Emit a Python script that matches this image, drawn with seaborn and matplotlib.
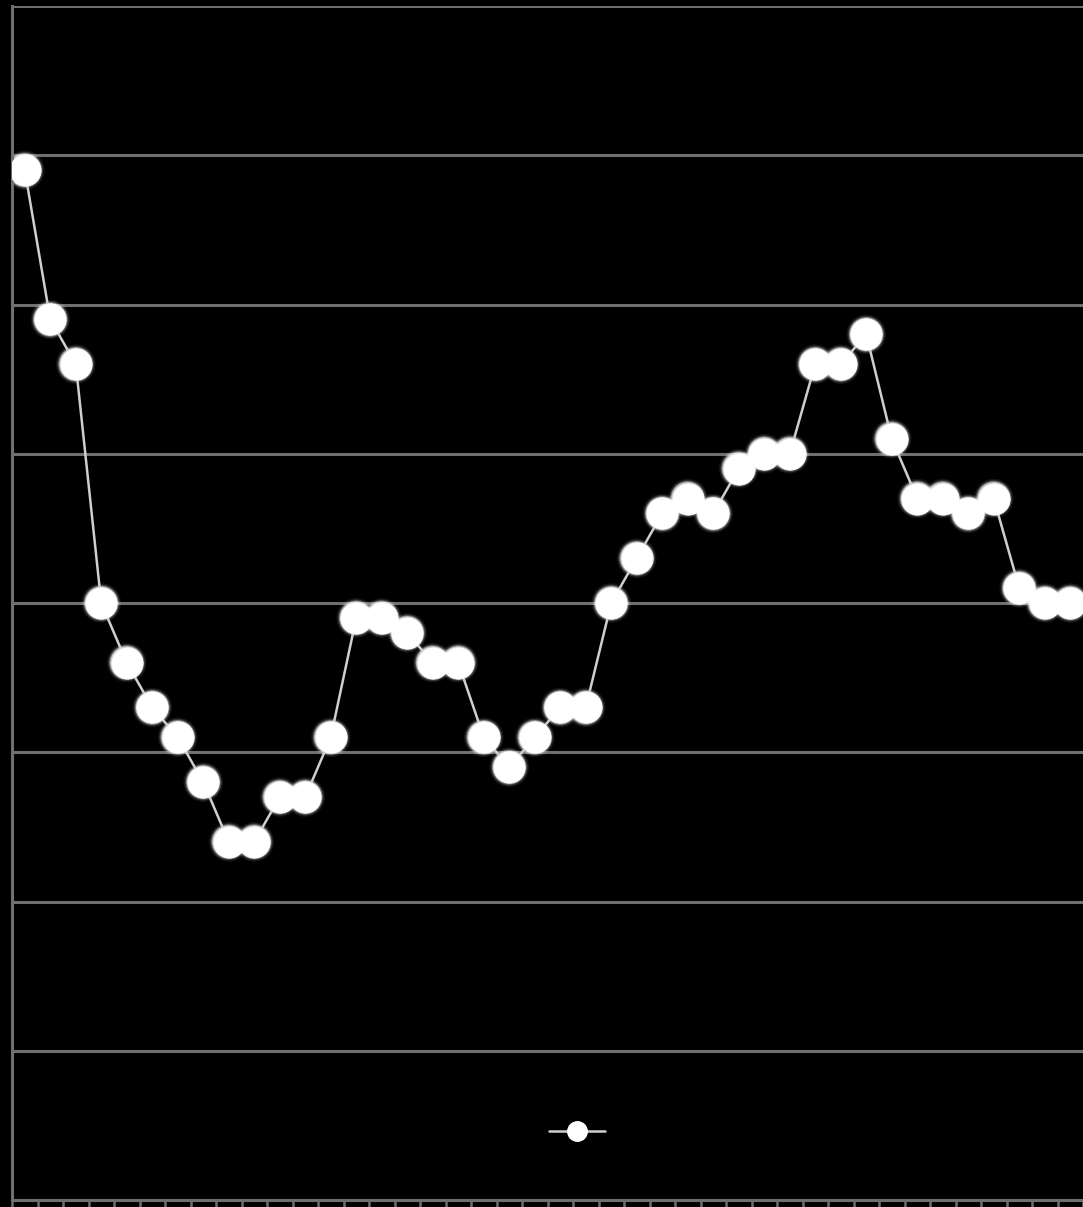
import numpy as np
import pandas as pd
import matplotlib
matplotlib.use("Agg")
import matplotlib.pyplot as plt
import seaborn as sns
from matplotlib.lines import Line2D

# data
periods = list(range(1, 43))
values = [69, 59, 56, 40, 36, 33, 31, 28, 24, 24,
          27, 27, 31, 39, 39, 38, 36, 36, 31, 29,
          31, 33, 33, 40, 43, 46, 47, 46, 49, 50,
          50, 56, 56, 58, 51, 47, 47, 46, 47, 41,
          40, 40]
y_ticks = [0, 10, 20, 30, 40, 50, 60, 70, 80]

df = pd.DataFrame({"period": periods, "value": values})
df["pos"] = np.arange(len(df))

sns.set_theme(style="dark")
fig = plt.figure(figsize=(10.83, 12.07), dpi=100, facecolor="black")
ax = fig.add_axes([12 / 1083, 7 / 1207, 1071 / 1083, 1194 / 1207])
ax.set_facecolor("black")

grid_c = "#6f6f6f"
for v in y_ticks[1:]:
    ax.axhline(v, color=grid_c, lw=2.2, zorder=0)

ms = 22.5
# soft glow under markers
for extra, a in [(6, 0.08), (4, 0.16), (2.5, 0.35), (1.2, 0.6)]:
    sns.scatterplot(data=df, x="pos", y="value", ax=ax, s=(ms + extra) ** 2,
                    color="white", alpha=a, linewidth=0, edgecolor="none",
                    legend=False, zorder=2)
sns.lineplot(data=df, x="pos", y="value", ax=ax, color="#cfcfcf", lw=1.8,
             marker="o", markersize=ms, markerfacecolor="white",
             markeredgecolor="white", markeredgewidth=0.5, zorder=3)

ax.set_xlim(-0.5, len(df) - 0.5)
ax.set_ylim(0, 80)
ax.set_xticks(np.arange(-0.5, len(df), 1.0))
ax.set_xticklabels([])
ax.set_yticks([])
ax.set_xlabel("")
ax.set_ylabel("")
ax.tick_params(axis="x", direction="out", length=7, width=1.8, color=grid_c,
               bottom=True)
for side in ["left", "bottom"]:
    ax.spines[side].set_visible(True)
    ax.spines[side].set_color(grid_c)
    ax.spines[side].set_linewidth(2.2)
ax.spines["right"].set_visible(False)
ax.spines["top"].set_visible(False)
ax.grid(False)

handle = Line2D([], [], color="#cfcfcf", lw=1.8, marker="o", markersize=14,
                markerfacecolor="white", markeredgecolor="white")
leg = ax.legend([handle], [""], loc="center", bbox_to_anchor=(0.5275, 0.057),
                frameon=False, handlelength=4.0, handletextpad=0, fontsize=10)

fig.savefig("out.png", dpi=100, facecolor="black")
